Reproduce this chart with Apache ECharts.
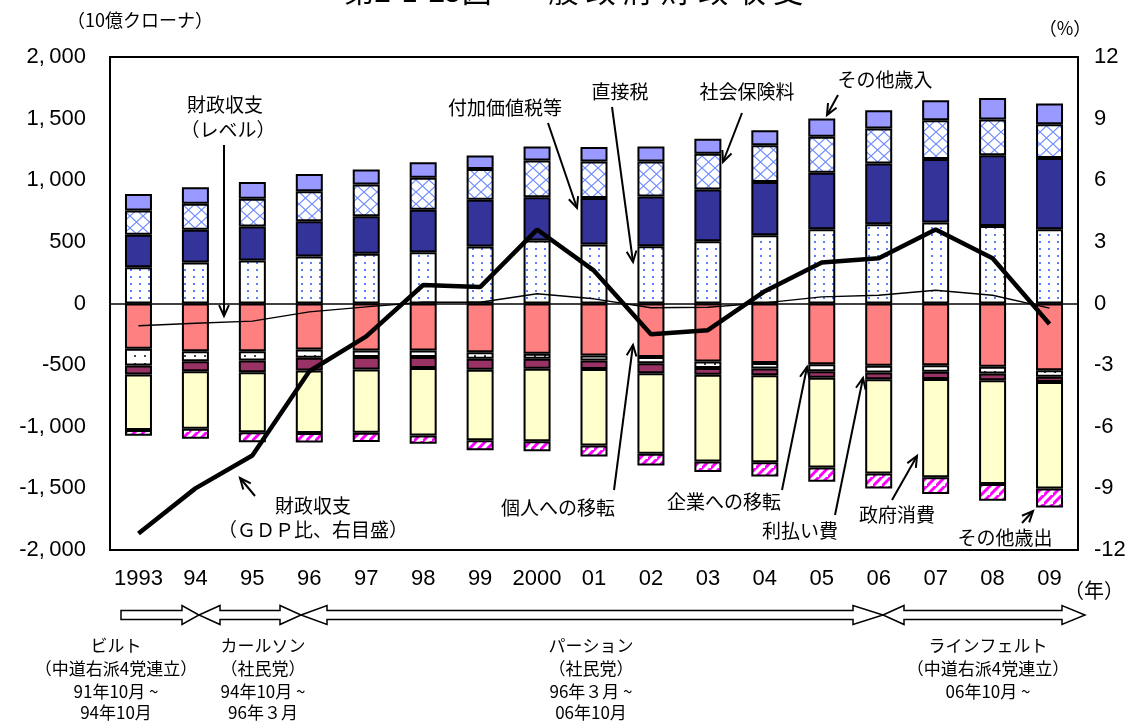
<!DOCTYPE html>
<html>
<head>
<meta charset="utf-8">
<script src="https://cdn.jsdelivr.net/npm/echarts@6/dist/echarts.min.js"></script>
<style>
  html, body { margin: 0; padding: 0; background: #fff; }
  #chart { width: 1131px; height: 722px; }
</style>
</head>
<body>
<div id="chart"></div>
<script>
// 年次（カテゴリ）
const years = ['1993', '94', '95', '96', '97', '98', '99', '2000', '01', '02', '03', '04', '05', '06', '07', '08', '09'];

// 歳入（10億クローナ）
const vatEtc      = [294, 333, 349, 381, 403, 416, 462, 511, 479, 465, 505, 554, 603, 643, 657, 629, 603];
const directTax   = [263, 265, 276, 286, 305, 344, 379, 351, 376, 403, 419, 432, 457, 492, 516, 573, 578];
const socialIns   = [197, 211, 225, 243, 257, 260, 251, 298, 298, 284, 290, 298, 292, 284, 314, 290, 273];
const otherRev    = [135, 135, 135, 141, 122, 127, 108, 114, 116, 122, 122, 122, 149, 149, 162, 175, 168];

// 歳出（10億クローナ、正の値で保持し負方向に積み上げる）
const indivTrans  = [367, 387, 387, 373, 381, 381, 395, 408, 422, 435, 470, 482, 492, 506, 500, 514, 541];
const corpTrans   = [136, 81, 76, 67, 54, 54, 54, 41, 41, 49, 54, 46, 57, 54, 54, 54, 54];
const interest    = [73, 81, 95, 103, 100, 89, 89, 81, 68, 81, 54, 54, 54, 54, 59, 54, 41];
const govCons     = [451, 467, 487, 508, 513, 546, 571, 587, 622, 654, 703, 706, 727, 765, 797, 843, 865];
const otherExp    = [46, 81, 81, 76, 76, 68, 81, 81, 89, 95, 87, 116, 117, 122, 135, 135, 154];

// 財政収支
const balanceLevel = [-181, -160, -143, -68, -27, 10, 10, 79, 38, -35, -30, 5, 54, 67, 108, 67, -38];
const balanceGdp   = [-11.2, -9.0, -7.4, -3.3, -1.6, 0.9, 0.8, 3.6, 1.6, -1.5, -1.3, 0.6, 2.0, 2.2, 3.6, 2.2, -1.0];

// 目盛
const leftTicks  = { min: -2000, max: 2000, interval: 500 };
const rightTicks = { min: -12, max: 12, interval: 3 };

// 政権
const cabinets = [
  { name: 'ビルト',         party: '（中道右派4党連立）', from: '91年10月 ~', to: '94年10月', cx: 116 },
  { name: 'カールソン',     party: '（社民党）',           from: '94年10月 ~', to: '96年３月', cx: 263 },
  { name: 'パーション',     party: '（社民党）',           from: '96年３月 ~', to: '06年10月', cx: 591 },
  { name: 'ラインフェルト', party: '（中道右派4党連立）', from: '06年10月 ~', to: '',          cx: 988 }
];

const JP = "'Noto Sans CJK JP', sans-serif";
const NUM = "'Liberation Sans', Arial, sans-serif";

// ---- fill patterns ----
function makeTile(w, h, draw) {
  const c = document.createElement('canvas');
  c.width = w; c.height = h;
  const g = c.getContext('2d');
  g.fillStyle = '#fff';
  g.fillRect(0, 0, w, h);
  draw(g, w, h);
  return { image: c, repeat: 'repeat' };
}
const dotsBlue = makeTile(9, 7, (g) => {
  g.fillStyle = '#5b7cff';
  g.fillRect(4, 3, 2, 2);
});
const dotsDark = makeTile(10, 8, (g) => {
  g.fillStyle = '#444';
  g.fillRect(4, 3, 2, 2);
});
const crossHatch = makeTile(13, 12, (g, w, h) => {
  g.strokeStyle = '#6f8cff';
  g.lineWidth = 1.2;
  g.beginPath();
  g.moveTo(0, 0); g.lineTo(w, h);
  g.moveTo(w, 0); g.lineTo(0, h);
  g.stroke();
});
const stripes = makeTile(9, 9, (g, w, h) => {
  g.strokeStyle = '#ff00ff';
  g.lineWidth = 3;
  g.beginPath();
  g.moveTo(-2, h + 2); g.lineTo(w + 2, -2);
  g.moveTo(-2 - w, h + 2); g.lineTo(2, -2);
  g.moveTo(w - 2, 2 * h + 2); g.lineTo(2 * w + 2, h - 2);
  g.stroke();
});

const neg = (arr) => arr.map(v => -v);

function barSeries(name, data, color) {
  return {
    name, type: 'bar', stack: 'fiscal', data,
    barWidth: 27,
    itemStyle: { color, borderColor: '#000', borderWidth: 2 },
    emphasis: { disabled: true },
    z: 2
  };
}

function fmtLeft(v) {
  if (v === 0) return '0';
  const s = String(Math.abs(v));
  const t = s.length > 3 ? s.slice(0, -3) + ',\u2009' + s.slice(-3) : s;
  return (v < 0 ? '-' : '') + t;
}

// ---- annotation helpers ----
function arrowLine(x1, y1, x2, y2) {
  const ang = Math.atan2(y2 - y1, x2 - x1);
  const L = 12, W = 0.42;
  const p1 = [x2 - L * Math.cos(ang - W), y2 - L * Math.sin(ang - W)];
  const p2 = [x2 - L * Math.cos(ang + W), y2 - L * Math.sin(ang + W)];
  return [
    { type: 'line', shape: { x1, y1, x2, y2 }, style: { stroke: '#000', lineWidth: 2 }, z: 20 },
    { type: 'polyline', shape: { points: [p1, [x2, y2], p2] }, style: { stroke: '#000', lineWidth: 2, fill: null }, z: 20 }
  ];
}
function label(text, x, y, size, align) {
  return {
    type: 'text', x, y, z: 20,
    style: { text, font: `${size || 19}px ${JP}`, fill: '#000', textAlign: align || 'center', textVerticalAlign: 'middle' }
  };
}
function timelineArrow(leftTip, leftBase, rightBase, rightTip) {
  const cy = 615, hs = 4.5, hh = 9.5;
  let pts;
  if (leftTip === null) {
    pts = [[leftBase, cy - hs], [rightBase, cy - hs], [rightBase, cy - hh], [rightTip, cy],
           [rightBase, cy + hh], [rightBase, cy + hs], [leftBase, cy + hs]];
  } else {
    pts = [[leftTip, cy], [leftBase, cy - hh], [leftBase, cy - hs], [rightBase, cy - hs], [rightBase, cy - hh],
           [rightTip, cy], [rightBase, cy + hh], [rightBase, cy + hs], [leftBase, cy + hs], [leftBase, cy + hh]];
  }
  return { type: 'polygon', shape: { points: pts }, style: { fill: null, stroke: '#000', lineWidth: 1.5 }, z: 20 };
}

const graphics = [];
// 表題・単位
graphics.push({ type: 'text', x: 418, y: 6, z: 20,
  style: { text: '第2-1-25図', font: `30px ${JP}`, fill: '#000', textAlign: 'center', textVerticalAlign: 'bottom' } });
graphics.push({ type: 'text', x: 657, y: 6, z: 20,
  style: { text: '一\u2005般\u2005政\u2005府\u2005財\u2005政\u2005収\u2005支', font: `30px ${JP}`, fill: '#000', textAlign: 'center', textVerticalAlign: 'bottom' } });
graphics.push(label('（10億クローナ）', 140, 20, 18));
graphics.push(label('（%）', 1065, 28, 18));
graphics.push(label('（年）', 1064, 590, 20, 'left'));

// 系列の注記
graphics.push(label('財政収支', 225, 105));
graphics.push(label('（レベル）', 228, 130));
graphics.push(...arrowLine(224, 145, 224, 316));
graphics.push(label('付加価値税等', 505, 108));
graphics.push(...arrowLine(548, 123, 577, 208));
graphics.push(label('直接税', 620, 92));
graphics.push(...arrowLine(612, 107, 633, 262));
graphics.push(label('社会保険料', 747, 92));
graphics.push(...arrowLine(742, 113, 723, 162));
graphics.push(label('その他歳入', 885, 80));
graphics.push(...arrowLine(838, 95, 827, 115));
graphics.push(label('財政収支', 313, 506));
graphics.push(label('（ＧＤＰ比、右目盛）', 313, 530));
graphics.push(...arrowLine(255, 496, 240, 478));
graphics.push(label('個人への移転', 558, 508));
graphics.push(...arrowLine(614, 490, 633, 345));
graphics.push(label('企業への移転', 724, 502));
graphics.push(...arrowLine(782, 490, 807, 367));
graphics.push(label('利払い費', 800, 531));
graphics.push(...arrowLine(835, 515, 863, 378));
graphics.push(label('政府消費', 897, 515));
graphics.push(...arrowLine(892, 500, 917, 456));
graphics.push(label('その他歳出', 1005, 538));
graphics.push(...arrowLine(1022, 523, 1033, 511));

// 政権の期間
graphics.push(timelineArrow(null, 121, 182, 199));
graphics.push(timelineArrow(199, 220, 280, 301));
graphics.push(timelineArrow(301, 327, 853, 883));
graphics.push(timelineArrow(883, 904, 1062, 1085));
cabinets.forEach(c => {
  graphics.push(label(c.name, c.cx, 646, 17));
  graphics.push(label(c.party, c.cx, 669, 17));
  graphics.push(label(c.from, c.cx, 692, 17));
  if (c.to) graphics.push(label(c.to, c.cx, 713, 17));
});

const option = {
  animation: false,
  backgroundColor: '#fff',
  grid: { left: 110, right: 53, top: 57, bottom: 172, show: true, borderColor: '#000', borderWidth: 2 },
  xAxis: {
    type: 'category', data: years,
    axisLine: { show: false }, axisTick: { show: false },
    axisLabel: { interval: 0, color: '#000', fontSize: 22, fontFamily: NUM, margin: 18 }
  },
  yAxis: [
    {
      type: 'value', min: leftTicks.min, max: leftTicks.max, interval: leftTicks.interval,
      axisLine: { show: false }, axisTick: { show: false }, splitLine: { show: false },
      axisLabel: { color: '#000', fontSize: 22, fontFamily: NUM, margin: 24, formatter: fmtLeft }
    },
    {
      type: 'value', min: rightTicks.min, max: rightTicks.max, interval: rightTicks.interval,
      axisLine: { show: false }, axisTick: { show: false }, splitLine: { show: false },
      axisLabel: { color: '#000', fontSize: 22, fontFamily: NUM, margin: 16 }
    }
  ],
  series: [
    barSeries('付加価値税等', vatEtc, dotsBlue),
    barSeries('直接税', directTax, '#333399'),
    barSeries('社会保険料', socialIns, crossHatch),
    barSeries('その他歳入', otherRev, '#9999ff'),
    barSeries('個人への移転', neg(indivTrans), '#ff8080'),
    barSeries('企業への移転', neg(corpTrans), dotsDark),
    barSeries('利払い費', neg(interest), '#993366'),
    barSeries('政府消費', neg(govCons), '#ffffcc'),
    barSeries('その他歳出', neg(otherExp), stripes),
    {
      name: '財政収支（レベル）', type: 'line', data: balanceLevel, yAxisIndex: 0,
      symbol: 'none', lineStyle: { color: '#000', width: 1.4 }, z: 5,
      markLine: {
        silent: true, symbol: 'none', label: { show: false },
        lineStyle: { color: '#000', width: 1.5, type: 'solid' },
        data: [{ yAxis: 0 }]
      }
    },
    {
      name: '財政収支（GDP比）', type: 'line', data: balanceGdp, yAxisIndex: 1,
      symbol: 'none', lineStyle: { color: '#000', width: 4.5 }, z: 6
    }
  ],
  graphic: graphics
};

const chart = echarts.init(document.getElementById('chart'), null, { renderer: 'canvas' });
chart.setOption(option);
</script>
</body>
</html>
